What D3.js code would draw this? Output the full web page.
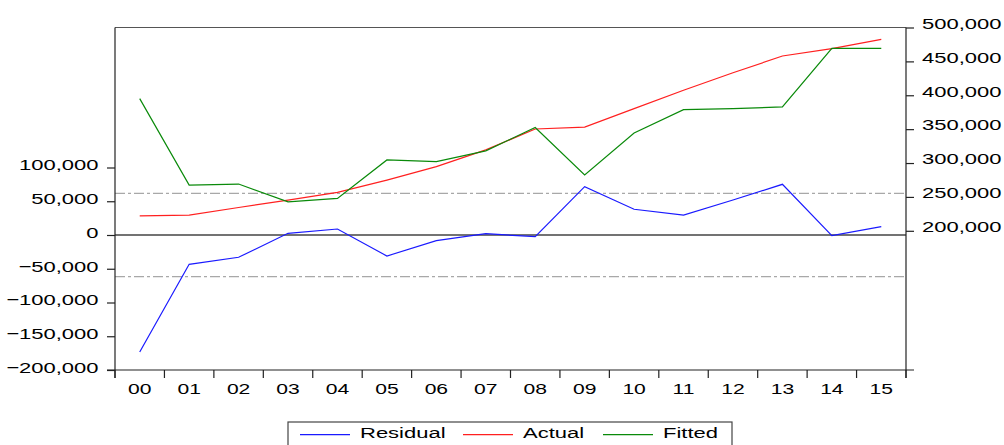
<!DOCTYPE html>
<html><head><meta charset="utf-8">
<script src="https://cdn.jsdelivr.net/npm/d3@7"></script>
<style>body{margin:0;background:#fff}svg{display:block}text{font-family:"Liberation Sans",Arial,sans-serif;fill:#000}</style>
</head><body><svg id="c" width="1004" height="445"></svg>
<script>
const categories = ["00","01","02","03","04","05","06","07","08","09","10","11","12","13","14","15"];
const residual = [-173300,-43400,-33000,2500,8900,-31100,-8400,1900,-2500,71600,38100,29600,51900,75100,-1000,12300];
const actual   = [222000,223000,234400,245300,256700,274900,294700,319400,350200,353100,380300,407400,433200,457900,468800,482600];
const fitted   = [395100,267500,269000,242700,247800,304600,302100,318000,352500,282300,344200,378800,380300,382800,469300,469300];
const leftTicks  = [-200000,-150000,-100000,-50000,0,50000,100000];
const rightTicks = [200000,250000,300000,350000,400000,450000,500000];
const residualSE = 61800;
const seriesNames = ["Residual","Actual","Fitted"];
const seriesColors = ["#1a1aff","#ff2020","#0a8a0a"];

const W = 1004, H = 445;
const P = {left:115, right:906, top:27.5, bottom:370};
const FS = 15.5, SX = 1.42, SXX = 1.36;
const svg = d3.select("#c");
svg.append("rect").attr("width",W).attr("height",H).attr("fill","#fff");

const x  = d3.scaleBand().domain(categories).range([P.left, P.right]);
const cx = c => x(c) + x.bandwidth()/2;
const yL = d3.scaleLinear().domain([-200000,100000]).range([P.bottom,167.5]);
const yR = d3.scaleLinear().domain([200000,500000]).range([230.8,P.top]);

function stretch(sel, sx){
  sel.each(function(){
    const t = d3.select(this);
    const xv = +t.attr("x") || 0;
    t.attr("x", xv/sx).attr("transform", `scale(${sx},1)`);
  });
}

// reference lines
svg.selectAll(".se").data([residualSE,-residualSE]).join("line")
  .attr("x1",P.left).attr("x2",P.right)
  .attr("y1",d=>yL(d)).attr("y2",d=>yL(d))
  .attr("stroke","#a8a8a8").attr("stroke-width",1.3).attr("stroke-dasharray","10,3,3,3");
svg.append("line").attr("x1",P.left).attr("x2",P.right)
  .attr("y1",yL(0)).attr("y2",yL(0)).attr("stroke","#444").attr("stroke-width",1.6);

// frame
svg.append("line").attr("x1",P.left).attr("x2",P.right).attr("y1",P.top).attr("y2",P.top).attr("stroke","#555").attr("stroke-width",1.2);
svg.append("line").attr("x1",P.left).attr("x2",P.left).attr("y1",P.top).attr("y2",P.bottom+8).attr("stroke","#222").attr("stroke-width",1.2);
svg.append("line").attr("x1",P.right).attr("x2",P.right).attr("y1",P.top).attr("y2",P.bottom+8).attr("stroke","#222").attr("stroke-width",1.2);
svg.append("line").attr("x1",P.left-8).attr("x2",P.right+8).attr("y1",P.bottom).attr("y2",P.bottom).attr("stroke","#222").attr("stroke-width",1.2);

// axes
const gL = svg.append("g").attr("transform",`translate(${P.left},0)`)
  .call(d3.axisLeft(yL).tickValues(leftTicks).tickFormat(d3.format(",")).tickSize(8).tickPadding(8.5));
gL.select(".domain").remove();
gL.selectAll("line").attr("stroke","#222").attr("stroke-width",1.2);
gL.selectAll("text").attr("font-size",FS).attr("font-family",null).attr("dy","0.16em");
stretch(gL.selectAll("text"), SX);

const gR = svg.append("g").attr("transform",`translate(${P.right},0)`)
  .call(d3.axisRight(yR).tickValues(rightTicks).tickFormat(d3.format(",")).tickSize(8).tickPadding(8));
gR.select(".domain").remove();
gR.selectAll("line").attr("stroke","#222").attr("stroke-width",1.2);
gR.selectAll("text").attr("font-size",FS).attr("font-family",null).attr("dy","0.05em");
stretch(gR.selectAll("text"), SX);

const gB = svg.append("g").attr("transform",`translate(0,${P.bottom})`)
  .call(d3.axisBottom(x).tickSize(0).tickPadding(13));
gB.select(".domain").remove();
gB.selectAll("text").attr("font-size",FS).attr("font-family",null).attr("dy","0.71em");
stretch(gB.selectAll("text"), SXX);
const bounds = categories.map(c=>x(c)).concat([x.range()[1]]);
svg.selectAll(".xt").data(bounds).join("line")
  .attr("x1",d=>d).attr("x2",d=>d).attr("y1",P.bottom).attr("y2",P.bottom+8)
  .attr("stroke","#222").attr("stroke-width",1.2);

// series
const lineL = d3.line().x((d,i)=>cx(categories[i])).y(d=>yL(d));
const lineR = d3.line().x((d,i)=>cx(categories[i])).y(d=>yR(d));
svg.append("path").attr("d",lineL(residual)).attr("fill","none").attr("stroke",seriesColors[0]).attr("stroke-width",1.2);
svg.append("path").attr("d",lineR(actual)).attr("fill","none").attr("stroke",seriesColors[1]).attr("stroke-width",1.2);
svg.append("path").attr("d",lineR(fitted)).attr("fill","none").attr("stroke",seriesColors[2]).attr("stroke-width",1.2);

// legend
const lg = svg.append("g");
lg.append("rect").attr("x",288).attr("y",422).attr("width",444).attr("height",30)
  .attr("fill","#fff").attr("stroke","#444").attr("stroke-width",1.2);
const lx = [300,463,603];
seriesNames.forEach((n,i)=>{
  lg.append("line").attr("x1",lx[i]).attr("x2",lx[i]+50).attr("y1",434.7).attr("y2",434.7)
    .attr("stroke",seriesColors[i]).attr("stroke-width",1.2);
  lg.append("text").attr("x",lx[i]+60).attr("y",438.5).attr("font-size",FS).text(n);
});
stretch(lg.selectAll("text"), SX);
</script></body></html>
